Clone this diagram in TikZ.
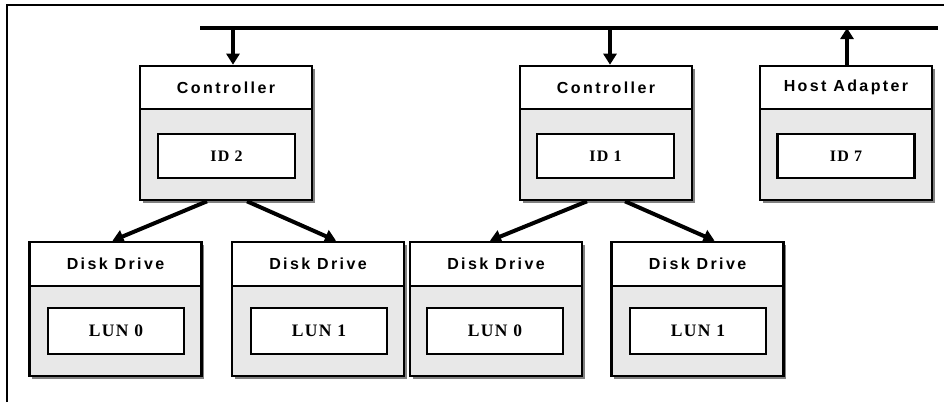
\documentclass[tikz,border=0pt]{standalone}
\usepackage{fontspec}
\usetikzlibrary{arrows.meta,shadows,calc}
\newfontfamily\hdrfont[LetterSpace=15]{Liberation Sans}
\newfontfamily\idfont[LetterSpace=8]{Liberation Serif}
\definecolor{boxgray}{HTML}{E8E8E8}
\definecolor{shadowgray}{HTML}{808080}
\tikzset{
  outerbox/.style={draw, line width=2.6pt, fill=boxgray, minimum width=172pt, minimum height=134pt,
    inner sep=0pt, drop shadow={shadow xshift=2.5pt, shadow yshift=-2.5pt, fill=shadowgray, opacity=1}},
  hdrbox/.style={draw, line width=2.6pt, fill=white, minimum width=172pt, minimum height=43pt,
    inner sep=0pt, anchor=north, font=\hdrfont\bfseries\fontsize{16}{19}\selectfont},
  idbox/.style={draw, line width=2.6pt, fill=white, minimum width=137pt, minimum height=44pt,
    inner sep=0pt, font=\idfont\bfseries\fontsize{16}{19}\selectfont},
  lunbox/.style={draw, line width=2.6pt, fill=white, minimum width=136pt, minimum height=46pt,
    inner sep=0pt, font=\idfont\bfseries\fontsize{17.5}{20}\selectfont},
  conn/.style={line width=4pt, -{Triangle[length=11pt,width=13pt]}},
  frameline/.style={line width=2.6pt},
  busline/.style={line width=4pt}
}
\begin{document}
\begin{tikzpicture}[x=1pt,y=-1pt]
\useasboundingbox (0,0) rectangle (944,402);
% frame
\draw[frameline] (7,402) -- (7,5) -- (944,5);
% bus
\coordinate (busL) at (200,28);
\coordinate (busR) at (938,28);
\draw[busline] (busL) -- (busR);
% controllers and host adapter
\node[outerbox] (c1) at (226,133) {};
\node[hdrbox] (c1h) at (c1.north) {Controller};
\node[idbox] (c1i) at (226.5,156) {ID 2};
\node[outerbox] (c2) at (606,133) {};
\node[hdrbox] (c2h) at (c2.north) {Controller};
\node[idbox] (c2i) at (605.5,156) {ID 1};
\node[outerbox] (ha) at (846,133) {};
\node[hdrbox] (hah) at (ha.north) {Host Adapter};
\node[idbox] (hai) at (846,156) {ID 7};
% disk drives
\node[outerbox] (d1) at (115.5,309) {};
\node[hdrbox, minimum height=44pt] (d1h) at (d1.north) {Disk Drive};
\node[lunbox] (d1i) at (116,331) {LUN 0};
\node[outerbox] (d2) at (318,309) {};
\node[hdrbox, minimum height=44pt] (d2h) at (d2.north) {Disk Drive};
\node[lunbox] (d2i) at (319,331) {LUN 1};
\node[outerbox] (d3) at (496,309) {};
\node[hdrbox, minimum height=44pt] (d3h) at (d3.north) {Disk Drive};
\node[lunbox] (d3i) at (495,331) {LUN 0};
\node[outerbox] (d4) at (697.5,309) {};
\node[hdrbox, minimum height=44pt] (d4h) at (d4.north) {Disk Drive};
\node[lunbox] (d4i) at (698,331) {LUN 1};
% bus taps
\coordinate (t1) at (233,28);
\coordinate (t2) at (610,28);
\coordinate (t3) at (847,28);
\draw[conn] (t1) -- (t1 |- c1h.north);
\draw[conn] (t2) -- (t2 |- c2h.north);
\draw[conn] (t3 |- hah.north) -- (t3);
% controller to disks
\draw[conn] ($(c1.south)+(-19,0)$) -- ($(d1h.north)+(-3,0)$);
\draw[conn] ($(c1.south)+(21,0)$) -- ($(d2h.north)+(18,0)$);
\draw[conn] ($(c2.south)+(-19,0)$) -- ($(d3h.north)+(-6,0)$);
\draw[conn] ($(c2.south)+(19,0)$) -- ($(d4h.north)+(17,0)$);
\end{tikzpicture}
\end{document}
